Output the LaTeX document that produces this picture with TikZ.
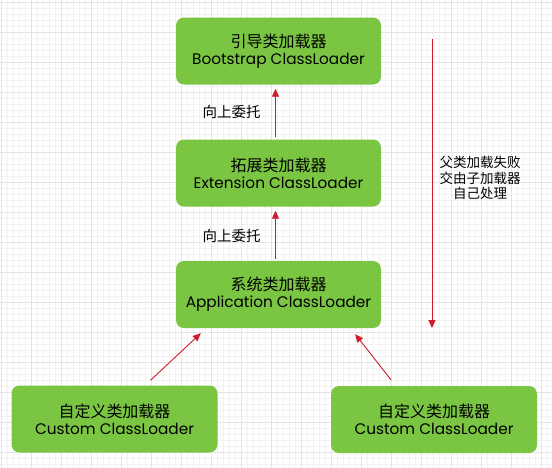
\documentclass[tikz,border=0pt]{standalone}
\usepackage{fontspec}
\setmainfont{Poppins}
\newfontfamily\cjk{Noto Sans CJK SC}
\usetikzlibrary{arrows.meta,calc}
\definecolor{boxgreen}{RGB}{122,198,67}
\definecolor{arrred}{RGB}{208,28,44}
\definecolor{gridminor}{RGB}{242,242,242}
\definecolor{gridmajor}{RGB}{228,228,228}
\newcommand{\cjkbig}{\cjk\fontsize{16}{17}\selectfont}
\tikzset{
  loader/.style={fill=boxgreen, rounded corners=8pt, minimum height=67pt, align=center,
    font=\fontsize{15.3}{17}\selectfont, text=black, inner sep=0pt},
  upbox/.style={loader, minimum width=205pt},
  custbox/.style={loader, minimum width=206pt},
  redarrow/.style={draw=arrred, line width=0.9pt, -{Triangle[length=8pt,width=7pt]}},
  cnlabel/.style={font=\cjk\fontsize{14.5}{17}\selectfont, inner sep=0pt},
  sidelabel/.style={font=\cjk\fontsize{13.5}{15.5}\selectfont, align=center, inner sep=0pt}
}
\begin{document}
\begin{tikzpicture}[x=1pt,y=1pt]
\useasboundingbox (0,0) rectangle (552,-467);
\fill[white] (0,0) rectangle (552,-467);
\begin{scope}[shift={(1,-2)}]
\draw[gridminor, line width=0.5pt, step=6pt] (-6,-474) grid (558,6);
\draw[gridmajor, line width=0.5pt, step=30pt] (-30,-480) grid (570,30);
\end{scope}
% boxes
\node[upbox] (boot) at (278.5,-51) {{\cjkbig 引导类加载器}\\Bootstrap ClassLoader};
\node[upbox] (ext) at (278.5,-173) {{\cjkbig 拓展类加载器}\\Extension ClassLoader};
\node[upbox] (app) at (278.5,-294.5) {{\cjkbig 系统类加载器}\\Application ClassLoader};
\node[custbox] (cl) at (114.5,-419) {{\cjkbig 自定义类加载器}\\Custom ClassLoader};
\node[custbox] (cr) at (434,-419.5) {{\cjkbig 自定义类加载器}\\Custom ClassLoader};
% labels
\node[cnlabel] (l1) at (231.5,-112) {向上委托};
\node[cnlabel] (l2) at (231.5,-236) {向上委托};
\node[sidelabel] (side) at (480,-178) {父类加载失败\\交由子加载器\\自己处理};
% arrows
\draw[redarrow] ([shift={(-3pt,2pt)}]ext.north) -- ([shift={(-3pt,-4pt)}]boot.south);
\draw[redarrow] ([shift={(-3pt,2pt)}]app.north) -- ([shift={(-3pt,-4pt)}]ext.south);
\draw[redarrow] ([shift={(36pt,5pt)}]cl.north) -- ([shift={(25pt,-5pt)}]app.south west);
\draw[redarrow] ([shift={(-43pt,6pt)}]cr.north) -- ([shift={(-26pt,-6pt)}]app.south east);
\coordinate (dtop) at (432,-39);
\coordinate (dbot) at (432,-328);
\draw[redarrow] (dtop) -- (dbot);
\end{tikzpicture}
\end{document}
